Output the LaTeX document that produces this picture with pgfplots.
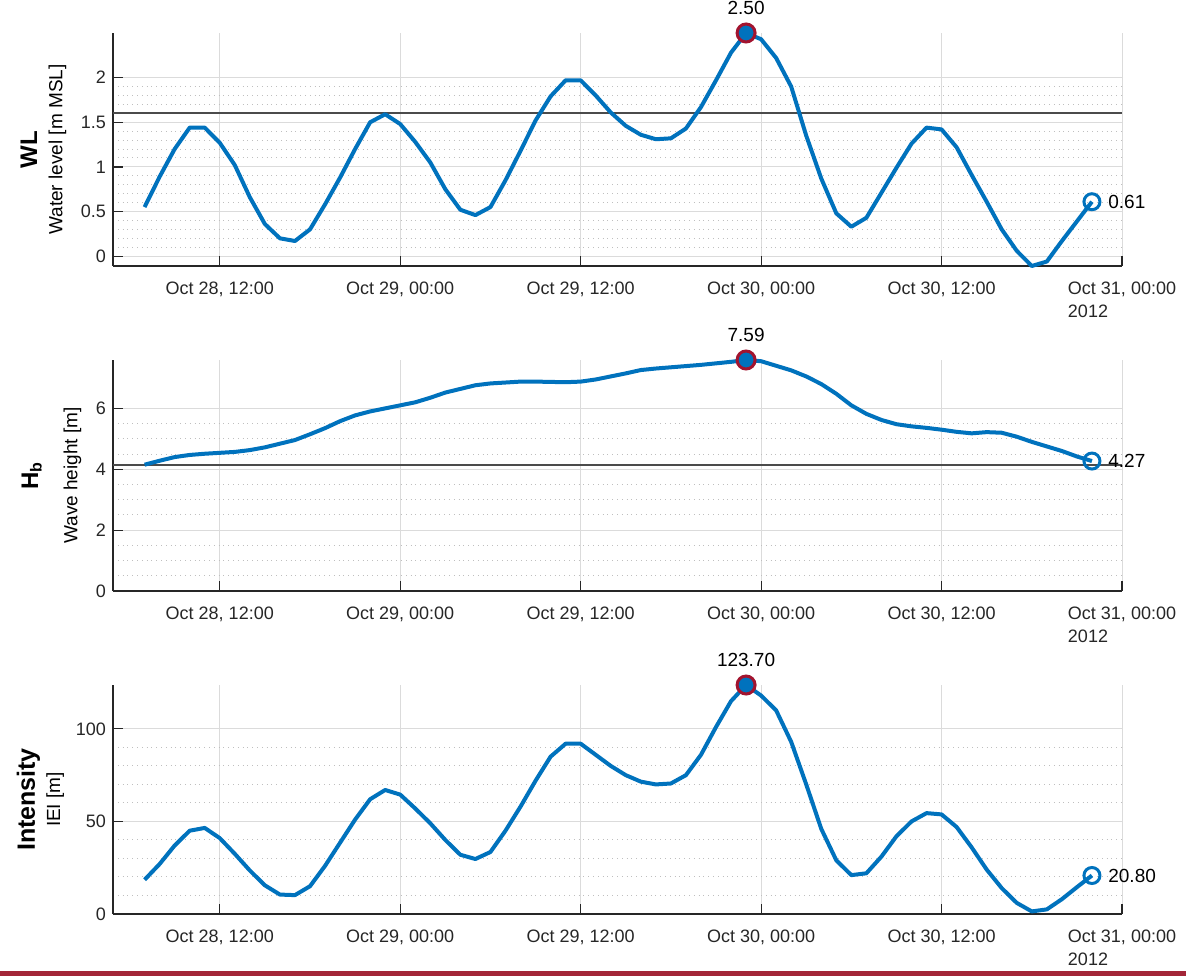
\documentclass[border=0pt]{standalone}
\usepackage{pgfplots}
\pgfplotsset{compat=1.18}
\usepackage{fontspec}
\setmainfont{Liberation Sans}

\definecolor{mblue}{RGB}{0,114,189}
\definecolor{mred}{RGB}{162,20,47}
\definecolor{axgray}{RGB}{38,38,38}
\definecolor{thr}{RGB}{75,75,75}
\definecolor{barred}{RGB}{163,38,56}

\tikzset{lbl/.style={font=\fontsize{9.5}{10}\selectfont, text=black, inner sep=0pt}}

\pgfplotsset{
 panel/.style={
   scale only axis, width=504.5pt, anchor=south west,
   xmin=4.9, xmax=72,
   axis x line*=bottom, axis y line*=left,
   axis line style={axgray, line width=0.6pt},
   tick align=inside, major tick length=5pt, minor tick length=0pt,
   tick style={axgray, line width=0.6pt},
   xtick={12,24,36,48,60,72},
   xticklabels={{Oct 28, 12:00},{Oct 29, 00:00},{Oct 29, 12:00},{Oct 30, 00:00},{Oct 30, 12:00},{Oct 31, 00:00\\2012}},
   xticklabel style={align=left, font=\fontsize{9}{11.5}\selectfont, text=axgray, yshift=-4.5pt},
   yticklabel style={font=\fontsize{9}{10}\selectfont, text=axgray},
   /pgf/number format/assume math mode=true,
   xmajorgrids, ymajorgrids, yminorgrids,
   major grid style={gray!28, line width=0.5pt},
   minor grid style={gray!50, dotted, line width=0.5pt},
   ylabel style={align=center, anchor=center, font=\fontsize{9.5}{12.6}\selectfont, text=black},
   clip=false,
 },
 curve/.style={mblue, line width=2pt, line join=round},
 peak/.style={only marks, mark=*, mark size=4.5pt, mark options={draw=mred, fill=mblue, line width=1.5pt}},
 last/.style={only marks, mark=o, mark size=4pt, mark options={draw=mblue, line width=1.5pt}},
}

\begin{document}
\begin{tikzpicture}
\path (0,0) rectangle (593pt,488pt);
\fill[barred] (0,0) rectangle (593pt,2.5pt);

% ---------- Panel 1: WL ----------
\begin{axis}[panel, at={(56.5pt,355pt)}, height=116.5pt,
  ymin=-0.11, ymax=2.5, ytick={0,0.5,1,1.5,2}, minor y tick num=4,
  ylabel={{\fontsize{12}{12.6}\selectfont\bfseries WL}\\{Water level [m MSL]}},
  ylabel style={at={(axis description cs:-0.069,0.5)}}]
\addplot[thr, line width=1pt] coordinates {(4.9,1.6) (72,1.6)};
\addplot[curve] coordinates {
(7,0.55) (8,0.89) (9,1.20) (10,1.44) (11,1.44) (12,1.27) (13,1.02) (14,0.66)
(15,0.36) (16,0.20) (17,0.17) (18,0.30) (19,0.58) (20,0.88) (21,1.20) (22,1.50)
(23,1.59) (24,1.48) (25,1.28) (26,1.05) (27,0.75) (28,0.52) (29,0.46) (30,0.55)
(31,0.85) (32,1.18) (33,1.52) (34,1.79) (35,1.97) (36,1.97) (37,1.80) (38,1.61)
(39,1.46) (40,1.36) (41,1.31) (42,1.32) (43,1.43) (44,1.67) (45,1.97) (46,2.28)
(47,2.50) (48,2.43) (49,2.22) (50,1.90) (51,1.35) (52,0.87) (53,0.48) (54,0.33)
(55,0.43) (56,0.71) (57,0.99) (58,1.26) (59,1.44) (60,1.42) (61,1.22) (62,0.91)
(63,0.61) (64,0.30) (65,0.06) (66,-0.11) (67,-0.06) (68,0.17) (69,0.39) (70,0.61)};
\addplot[peak] coordinates {(47,2.50)} node[lbl, above=8.8pt] {2.50};
\addplot[last] coordinates {(70,0.61)} node[lbl, right=8pt] {0.61};
\end{axis}

% ---------- Panel 2: Hb ----------
\begin{axis}[panel, at={(56.5pt,192.5pt)}, height=115.5pt,
  ymin=0, ymax=7.59, ytick={0,2,4,6}, minor y tick num=3,
  ylabel={{\fontsize{12}{12.6}\selectfont\bfseries H\textsubscript{b}}\\[7pt]{Wave height [m]}},
  ylabel style={at={(axis description cs:-0.061,0.5)}}]
\addplot[thr, line width=1pt] coordinates {(4.9,4.14) (72,4.14)};
\addplot[curve] coordinates {
(7,4.15) (8,4.28) (9,4.40) (10,4.47) (11,4.51) (12,4.54) (13,4.57) (14,4.63)
(15,4.72) (16,4.84) (17,4.96) (18,5.15) (19,5.35) (20,5.58) (21,5.77) (22,5.90)
(23,6.00) (24,6.10) (25,6.20) (26,6.35) (27,6.52) (28,6.64) (29,6.76) (30,6.82)
(31,6.85) (32,6.88) (33,6.88) (34,6.87) (35,6.86) (36,6.88) (37,6.95) (38,7.05)
(39,7.15) (40,7.26) (41,7.31) (42,7.35) (43,7.39) (44,7.43) (45,7.48) (46,7.53)
(47,7.59) (48,7.55) (49,7.40) (50,7.25) (51,7.05) (52,6.80) (53,6.48) (54,6.10)
(55,5.82) (56,5.62) (57,5.48) (58,5.41) (59,5.36) (60,5.30) (61,5.23) (62,5.18)
(63,5.22) (64,5.20) (65,5.07) (66,4.90) (67,4.75) (68,4.60) (69,4.42) (70,4.27)};
\addplot[peak] coordinates {(47,7.59)} node[lbl, above=8.8pt] {7.59};
\addplot[last] coordinates {(70,4.27)} node[lbl, right=8pt] {4.27};
\end{axis}

% ---------- Panel 3: Intensity ----------
\begin{axis}[panel, at={(56.5pt,31pt)}, height=114.5pt,
  ymin=0, ymax=123.7, ytick={0,50,100}, minor y tick num=4,
  ylabel={{\fontsize{12.5}{12.6}\selectfont\bfseries Intensity}\\{IEI [m]}},
  ylabel style={at={(axis description cs:-0.072,0.5)}}]
\addplot[curve] coordinates {
(7,18.5) (8,27) (9,37) (10,45) (11,46.5) (12,41) (13,32.5) (14,23.5)
(15,15.5) (16,10.5) (17,10.2) (18,15) (19,26) (20,38.5) (21,51) (22,62)
(23,67) (24,64.5) (25,57) (26,49) (27,40) (28,32) (29,29.7) (30,33.5)
(31,45) (32,58) (33,72) (34,85) (35,92) (36,92) (37,86) (38,80)
(39,75) (40,71.5) (41,70) (42,70.5) (43,75) (44,86) (45,101) (46,115)
(47,123.7) (48,118) (49,110) (50,93) (51,70) (52,46) (53,29) (54,21)
(55,22) (56,31) (57,42) (58,50) (59,54.5) (60,53.8) (61,47) (62,36)
(63,24) (64,14) (65,6) (66,1.4) (67,2.5) (68,8) (69,14.5) (70,20.8)};
\addplot[peak] coordinates {(47,123.7)} node[lbl, above=8.8pt] {123.70};
\addplot[last] coordinates {(70,20.8)} node[lbl, right=8pt] {20.80};
\end{axis}
\end{tikzpicture}
\end{document}
